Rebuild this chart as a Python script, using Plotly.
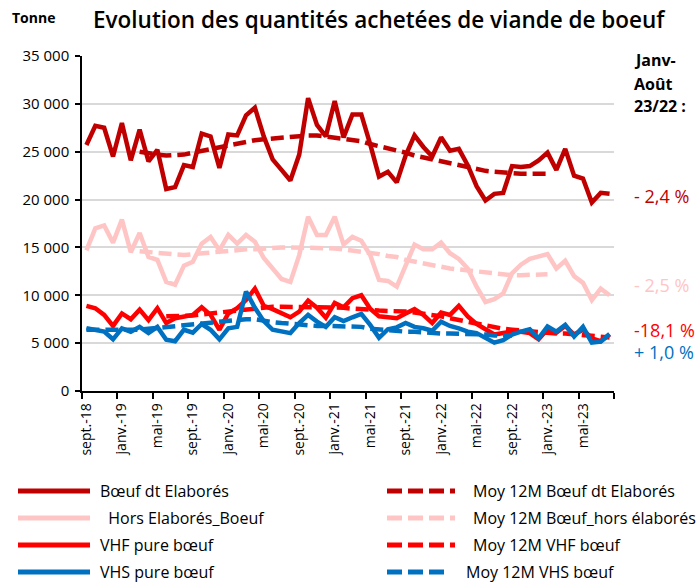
import plotly.graph_objects as go

# ---- data (tonnes), monthly Sept 2018 -> Aug 2023 ----
tick_labels = ["sept.-18", "janv.-19", "mai-19", "sept.-19", "janv.-20", "mai-20",
               "sept.-20", "janv.-21", "mai-21", "sept.-21", "janv.-22", "mai-22",
               "sept.-22", "janv.-23", "mai-23"]
n_months = 60
months = list(range(n_months))

boeuf_elabores = [25700, 27700, 27500, 24500, 28000, 24100, 27300, 24000, 25200, 21100,
                  21300, 23600, 23400, 26900, 26600, 23300, 26800, 26700, 28800, 29600,
                  26600, 24200, 23100, 22000, 24700, 30600, 27800, 26600, 30300, 26500,
                  28900, 28900, 25800, 22400, 22900, 21800, 24600, 26700, 25500, 24500,
                  26500, 25100, 25300, 23600, 21400, 19900, 20600, 20700, 23500, 23400,
                  23500, 24100, 24900, 23100, 25300, 22500, 22200, 19700, 20700, 20600]

hors_elabores = [14700, 17000, 17300, 15500, 17900, 14500, 16500, 14000, 13700, 11400,
                 11100, 13100, 13500, 15400, 16100, 14700, 16300, 15400, 16300, 15600,
                 13900, 12800, 11700, 11400, 14200, 18200, 16300, 16300, 18200, 15300,
                 16100, 15700, 14200, 11600, 11500, 10900, 13200, 15300, 14800, 14800,
                 15500, 14400, 13800, 12800, 10900, 9300, 9600, 10200, 12300, 13200,
                 13800, 14100, 14300, 12800, 13600, 12000, 11300, 9500, 10700, 10000]

vhf = [8900, 8650, 7950, 6800, 8100, 7500, 8500, 7400, 8650, 7100,
       7600, 7800, 7950, 8750, 7950, 6400, 8100, 8650, 9500, 10700,
       8900, 8550, 8100, 7700, 8300, 9450, 8700, 7650, 9200, 8750,
       9700, 10000, 8600, 7800, 7700, 7600, 8100, 8550, 7950, 7100,
       8200, 7950, 8900, 7800, 7000, 6400, 5900, 6050, 6200, 6200,
       6050, 5400, 6450, 6100, 6800, 5900, 6400, 5500, 5200, 5900]

vhs = [6550, 6400, 6200, 5400, 6550, 6200, 6700, 6050, 6700, 5350,
       5200, 6400, 6100, 7000, 6400, 5400, 6550, 6700, 10400, 8700,
       7300, 6400, 6200, 6050, 7100, 7950, 7250, 6700, 7700, 7300,
       7700, 8050, 6900, 5550, 6450, 6650, 7100, 6700, 6550, 6300,
       7250, 6800, 6550, 6200, 6050, 5500, 5050, 5300, 5900, 6200,
       6450, 5500, 6750, 6200, 6900, 5700, 6700, 5050, 5150, 5950]

moy_elabores = [None] * 6 + [
    25000, 24800, 24700, 24600, 24600, 24700, 24900, 25100, 25300, 25500,
    25700, 25900, 26000, 26200, 26300, 26400, 26500, 26600, 26700, 26700,
    26700, 26600, 26500, 26400, 26300, 26100, 25800, 25600, 25400, 25200,
    24900, 24600, 24400, 24100, 23900, 23700, 23500, 23300, 23200, 23000,
    22900, 22800, 22700, 22700, 22700, 22700, 22700] + [None] * 7

moy_hors = [None] * 6 + [
    14600, 14500, 14400, 14300, 14200, 14200, 14300, 14400, 14500, 14600,
    14700, 14700, 14800, 14800, 14900, 15000, 15000, 15000, 15000, 15000,
    15000, 15000, 14900, 14800, 14700, 14600, 14400, 14300, 14100, 14000,
    13700, 13500, 13300, 13200, 13000, 12800, 12700, 12600, 12500, 12300,
    12300, 12200, 12100, 12100, 12100, 12200, 12200] + [None] * 7

moy_vhf = [None] * 9 + [
    7800, 7800, 7800, 7900, 8000, 8100, 8300, 8400, 8500, 8600,
    8700, 8700, 8800, 8800, 8800, 8800, 8800, 8800, 8700, 8700,
    8700, 8600, 8600, 8500, 8400, 8400, 8300, 8300, 8200, 8100,
    8000, 7800, 7600, 7400, 7300, 7100, 6800, 6600, 6500, 6400,
    6300, 6200, 6100, 6100, 6000, 6000, 5900, 5900, 5800, 5700, 5600]

moy_vhs = [
    6400, 6400, 6400, 6300, 6300, 6300, 6400, 6500, 6600, 6700,
    6800, 6900, 7000, 7100, 7200, 7300, 7400, 7400, 7500, 7500,
    7300, 7200, 7100, 7000, 6900, 6900, 6800, 6800, 6800, 6700,
    6700, 6700, 6500, 6400, 6300, 6200, 6200, 6200, 6100, 6100,
    6000, 6000, 6000, 6000, 5900, 5900, 5800, 5800, 5800] + [None] * 11

series_names = ["Bœuf dt Elaborés", "\u00a0\u00a0Hors Elaborés_Boeuf", "VHF pure bœuf", "VHS pure bœuf"]
avg_names = ["Moy 12M Bœuf dt Elaborés", "Moy 12M Bœuf_hors élaborés", "Moy 12M VHF bœuf", "Moy 12M VHS bœuf"]
evolutions = ["- 2,4 %", "- 2,5 %", "-18,1 %", "+ 1,0 %"]

# ---- styles ----
colors = ["#C00000", "#FFC5C5", "#FF0000", "#0070C0"]
FONT = "Open Sans"
LW = 4.5
DASH = "13px,6px"

fig = go.Figure()
solids = [boeuf_elabores, hors_elabores, vhf, vhs]
avgs = [moy_elabores, moy_hors, moy_vhf, moy_vhs]
for k in range(4):
    fig.add_trace(go.Scatter(x=months, y=solids[k], mode="lines", name=series_names[k],
                             line=dict(color=colors[k], width=LW), showlegend=False))
    fig.add_trace(go.Scatter(x=months, y=avgs[k], mode="lines", name=avg_names[k],
                             line=dict(color=colors[k], width=LW, dash=DASH), showlegend=False))

L, R, T, B = 82, 86, 56, 194
W, H = 700, 585
pw, ph = W - L - R, H - T - B

def px(xp):
    return (xp - L) / pw

def py(yp):
    return (H - B - yp) / ph

fig.update_layout(
    width=W, height=H,
    margin=dict(l=L, r=R, t=T, b=B, autoexpand=False),
    paper_bgcolor="white", plot_bgcolor="white",
    font=dict(family=FONT, color="black", size=14),
    separators=", ",
    showlegend=False,
    title=dict(text="Evolution des quantités achetées de viande de boeuf",
               font=dict(family=FONT, size=22.5, color="black", weight=600),
               x=93 / W, xanchor="left", xref="container",
               y=1 - 20 / H, yanchor="middle", yref="container"),
    xaxis=dict(range=[-0.5, n_months - 0.5],
               tickmode="array", tickvals=months[::4], ticktext=tick_labels,
               tickangle=-90, tickfont=dict(size=14, family=FONT),
               ticks="outside", ticklen=5, tickcolor="rgba(0,0,0,0)",
               minor=dict(tick0=-0.5, dtick=4, ticks="outside", ticklen=6,
                          tickcolor="black", tickwidth=1.5, showgrid=False),
               showline=True, linecolor="black", linewidth=1.5,
               showgrid=False, zeroline=False),
    yaxis=dict(range=[0, 35000], dtick=5000, tickformat=",d",
               tickfont=dict(size=15, family=FONT), ticklabelstandoff=3,
               ticks="outside", ticklen=5, tickwidth=1.5, tickcolor="black",
               showline=True, linecolor="black", linewidth=1.5,
               showgrid=True, gridcolor="#D9D9D9", gridwidth=1.5, zeroline=False),
)

ann = [
    dict(text="<b>Tonne</b>", x=px(10), y=py(17), xanchor="left", yanchor="middle",
         font=dict(size=14)),
    dict(text="<b>Janv-</b>", x=px(632), y=py(60), xanchor="left", yanchor="middle",
         font=dict(size=16)),
    dict(text="<b>Août</b>", x=px(632), y=py(84), xanchor="left", yanchor="middle",
         font=dict(size=16)),
    dict(text="<b>23/22 :</b>", x=px(632), y=py(106), xanchor="left", yanchor="middle",
         font=dict(size=16)),
]
label_y = [196, 285, 330, 352]
for k in range(4):
    ann.append(dict(text=evolutions[k], x=px(632), y=py(label_y[k]), xanchor="left",
                    yanchor="middle", font=dict(size=18, color=colors[k])))

# ---- legend drawn as shapes + texts (two columns) ----
row_y = [491, 518, 545, 572]
shapes = []
col2_line_end = [455, 455, 455, 449]
col2_text_x = [471, 471, 471, 464]
for k in range(4):
    shapes.append(dict(type="line", xref="paper", yref="paper",
                       x0=px(18), x1=px(90), y0=py(row_y[k]), y1=py(row_y[k]),
                       line=dict(color=colors[k], width=5)))
    shapes.append(dict(type="line", xref="paper", yref="paper",
                       x0=px(387), x1=px(col2_line_end[k]), y0=py(row_y[k]), y1=py(row_y[k]),
                       line=dict(color=colors[k], width=5, dash="15px,6px")))
    ann.append(dict(text=series_names[k], x=px(98), y=py(row_y[k]), xanchor="left",
                    yanchor="middle", font=dict(size=16)))
    ann.append(dict(text=avg_names[k], x=px(col2_text_x[k]), y=py(row_y[k]), xanchor="left",
                    yanchor="middle", font=dict(size=16)))

for a in ann:
    a.update(xref="paper", yref="paper", showarrow=False)
fig.update_layout(annotations=ann, shapes=shapes)

fig.write_html("out.html", config={"displayModeBar": False},
               post_script="document.body.style.margin='0px';document.body.style.overflow='hidden';")
